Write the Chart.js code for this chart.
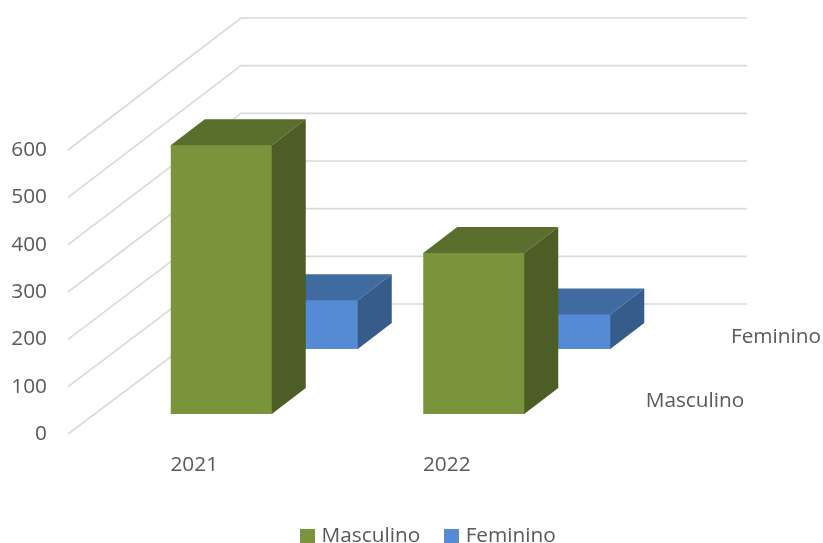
<!DOCTYPE html>
<html>
<head>
<meta charset="utf-8">
<style>html,body{margin:0;padding:0;background:#fff}canvas{display:block}</style>
<script src="https://cdn.jsdelivr.net/npm/chart.js@4"></script>
</head>
<body>
<canvas id="c" width="823" height="543"></canvas>
<script>
const categories = ['2021', '2022'];
const seriesNames = ['Masculino', 'Feminino'];
const masculino = [568, 340];
const feminino = [103, 73];
const yMax = 600;
const yStep = 100;

const textColor = '#595959';
const fontSpec = { family: 'Open Sans', size: 20.8 };
const gridColor = '#d9d9d9';
// 3D projection styling (pixels)
const wall = { dx: 173, dy0: -130, dy1: -132, extra: 1 };
const barDepth = { dx: 34, dy: -26 };
const rows = [
  { dx: 27, dy: -20, front: '#7a943b', top: '#5a6f2e', side: '#4c5e25', label: { x: 122, y: -33 } },
  { dx: 113, dy: -85, front: '#558bd5', top: '#3f6ba1', side: '#355c8b', label: { x: 203, y: -97 } }
];

function swatch(color) {
  const s = document.createElement('canvas');
  s.width = 15; s.height = 14;
  const g = s.getContext('2d');
  g.fillStyle = color;
  g.fillRect(0, 0, 15, 14);
  return s;
}

const depth3d = {
  id: 'depth3d',
  afterLayout(chart) {
    const l = chart.legend;
    const h = l.height;
    l.left = 0; l.right = 860;
    l.top = 535 - chart.options.plugins.legend.labels.padding - 9.5;
    l.bottom = l.top + h;
  },
  beforeDatasetsDraw(chart) {
    const { ctx, scales: { x, y } } = chart;
    ctx.save();
    ctx.strokeStyle = gridColor;
    ctx.lineWidth = 1.6;
    for (const t of y.ticks) {
      const py = y.getPixelForValue(t.value);
      const by = py + wall.dy0 + (wall.dy1 - wall.dy0) * t.value / yMax;
      ctx.beginPath();
      ctx.moveTo(x.left, py);
      ctx.lineTo(x.left + wall.dx, by);
      ctx.lineTo(x.right + wall.dx + wall.extra, by);
      ctx.stroke();
    }
    ctx.restore();
  },
  beforeDatasetDraw(chart, args) {
    const { ctx } = chart;
    const r = rows[args.index];
    ctx.save();
    ctx.translate(r.dx, r.dy);
    for (const el of args.meta.data) {
      const l = el.x - el.width / 2, R = el.x + el.width / 2;
      ctx.fillStyle = r.top;
      ctx.beginPath();
      ctx.moveTo(l, el.y);
      ctx.lineTo(l + barDepth.dx, el.y + barDepth.dy);
      ctx.lineTo(R + barDepth.dx, el.y + barDepth.dy);
      ctx.lineTo(R, el.y);
      ctx.lineTo(R, el.y + 1);
      ctx.lineTo(l, el.y + 1);
      ctx.closePath();
      ctx.fill();
      ctx.fillStyle = r.side;
      ctx.beginPath();
      ctx.moveTo(R - 1, el.y);
      ctx.lineTo(R, el.y);
      ctx.lineTo(R + barDepth.dx, el.y + barDepth.dy);
      ctx.lineTo(R + barDepth.dx, el.base + barDepth.dy);
      ctx.lineTo(R, el.base);
      ctx.lineTo(R - 1, el.base);
      ctx.closePath();
      ctx.fill();
    }
  },
  afterDatasetDraw(chart) {
    chart.ctx.restore();
  },
  afterDatasetsDraw(chart) {
    const { ctx, scales: { x, y } } = chart;
    ctx.save();
    ctx.fillStyle = textColor;
    ctx.font = fontSpec.size + 'px "' + fontSpec.family + '"';
    ctx.textAlign = 'center';
    ctx.textBaseline = 'middle';
    seriesNames.forEach((name, i) => {
      ctx.fillText(name, x.right + rows[i].label.x, y.bottom + rows[i].label.y);
    });
    ctx.restore();
  }
};

new Chart(document.getElementById('c'), {
  type: 'bar',
  data: {
    labels: categories,
    datasets: [
      { label: seriesNames[0], data: masculino, backgroundColor: rows[0].front, pointStyle: swatch(rows[0].front), clip: false },
      { label: seriesNames[1], data: feminino, backgroundColor: rows[1].front, pointStyle: swatch(rows[1].front), clip: false }
    ]
  },
  options: {
    responsive: false,
    animation: false,
    grouped: false,
    barPercentage: 0.4,
    categoryPercentage: 1,
    layout: { padding: { top: 150, right: 250, left: 0, bottom: 0 } },
    scales: {
      x: {
        grid: { display: false, drawTicks: false },
        border: { display: false },
        ticks: { color: textColor, font: fontSpec, padding: 19, maxRotation: 0 },
        afterFit(s) { s.height = 109 - (s.chart.legend ? s.chart.legend.height : 0); }
      },
      y: {
        min: 0,
        max: yMax,
        grid: { display: false, drawTicks: false },
        border: { display: false },
        ticks: { stepSize: yStep, color: textColor, font: fontSpec, padding: 21 },
        afterFit(s) { s.width = 68; }
      }
    },
    plugins: {
      tooltip: { enabled: false },
      legend: {
        position: 'bottom',
        labels: {
          color: textColor,
          font: fontSpec,
          usePointStyle: true,
          boxWidth: 7,
          padding: 28
        }
      }
    }
  },
  plugins: [depth3d]
});
</script>
</body>
</html>
